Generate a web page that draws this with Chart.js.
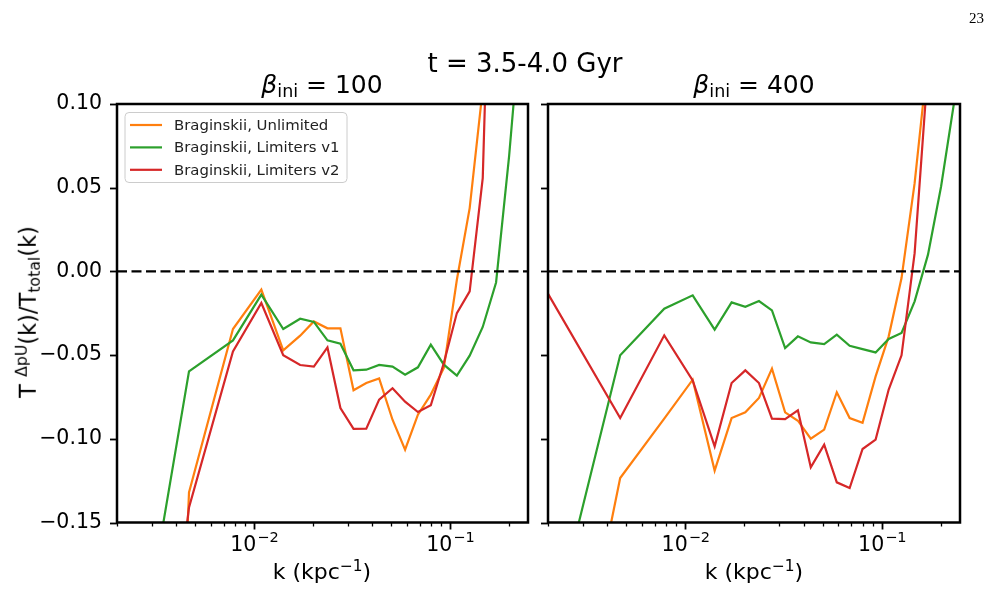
<!DOCTYPE html>
<html>
<head>
<meta charset="utf-8">
<script src="https://cdn.jsdelivr.net/npm/chart.js@4.4.1/dist/chart.umd.min.js"></script>
<style>
  body { margin: 0; background: #fff; }
  #wrap { position: relative; width: 999px; height: 615px; background: #fff; overflow: hidden;
          font-family: "DejaVu Sans", sans-serif; color: #000; }
  canvas { position: absolute; top: 0; }
  .txt { position: absolute; white-space: nowrap; line-height: 1; }
  .ctr { transform: translateX(-50%); }
  sub, sup { font-size: 70%; line-height: 0; }
  sub { vertical-align: -0.25em; }
  sup { vertical-align: 0.55em; }
</style>
</head>
<body>
<div id="wrap">
  <canvas id="c100" width="540" height="615" style="left:0"></canvas>
  <canvas id="c400" width="459" height="615" style="left:540px"></canvas>

  <div class="txt" style="left:969px;top:11px;font-family:'Liberation Serif',serif;font-size:15px">23</div>
  <div class="txt ctr" style="left:525px;top:50px;font-size:26px">t = 3.5-4.0 Gyr</div>
  <div class="txt ctr" style="left:322px;top:72px;font-size:25px"><i>β</i><sub>ini</sub> = 100</div>
  <div class="txt ctr" style="left:754px;top:72px;font-size:25px"><i>β</i><sub>ini</sub> = 400</div>
  <div class="txt ctr" style="left:322px;top:561px;font-size:22px">k (kpc<sup>−1</sup>)</div>
  <div class="txt ctr" style="left:754px;top:561px;font-size:22px">k (kpc<sup>−1</sup>)</div>
  <div class="txt" style="left:28px;top:312px;font-size:22.5px;transform:translate(-50%,-50%) rotate(-90deg)">T <sup>ΔpU</sup>(k)/T<sub>total</sub>(k)</div>
</div>

<script>
// wavenumber bins (kpc^-1), shared by both panels
const kBins = [0.00155, 0.00466, 0.00781, 0.0109, 0.0141, 0.0172, 0.0202, 0.0237,
               0.0276, 0.0322, 0.0374, 0.0435, 0.0509, 0.0590, 0.0686, 0.0798,
               0.0930, 0.1084, 0.1260, 0.1469, 0.1718, 0.2003, 0.2333, 0.2718];

// beta_ini = 100
const unlimited100 = [-1.5, -0.132, -0.0344, -0.0109, -0.0472, -0.0384, -0.0299, -0.0340,
                      -0.0340, -0.0710, -0.0667, -0.0639, -0.0886, -0.1065, -0.0856, -0.0736,
                      -0.0577, -0.0050, 0.0378, 0.109, 0.30];
const limV1_100 = [-0.39, -0.0597, -0.0412, -0.0139, -0.0344, -0.0283, -0.0302, -0.0412,
                   -0.0432, -0.0591, -0.0587, -0.0559, -0.0569, -0.0617, -0.0573, -0.0438,
                   -0.0557, -0.0623, -0.0503, -0.0332, -0.0066, 0.069, 0.16];
const limV2_100 = [-0.6, -0.141, -0.0478, -0.0189, -0.0501, -0.0559, -0.0569, -0.0454,
                   -0.0816, -0.0941, -0.0939, -0.0766, -0.0698, -0.0778, -0.0840, -0.0800,
                   -0.0547, -0.0249, -0.0119, 0.0557, 0.33];

// beta_ini = 400
const unlimited400 = [-0.40, -0.1234, -0.088, -0.0647, -0.1190, -0.0876, -0.0842, -0.0756,
                      -0.0581, -0.0842, -0.0892, -0.0999, -0.0945, -0.0722, -0.0876, -0.0905,
                      -0.0627, -0.0388, -0.0040, 0.0527, 0.128, 0.25];
const limV1_400 = [-0.277, -0.0501, -0.0223, -0.0143, -0.0348, -0.0185, -0.0211, -0.0177,
                   -0.0233, -0.0458, -0.0388, -0.0424, -0.0434, -0.0378, -0.0444, -0.0464,
                   -0.0484, -0.0404, -0.0368, -0.0179, 0.0100, 0.0507, 0.101, 0.2];
const limV2_400 = [0.009, -0.0876, -0.0382, -0.0651, -0.1045, -0.0667, -0.0591, -0.0667,
                   -0.0880, -0.0882, -0.0830, -0.1170, -0.1035, -0.1260, -0.1294, -0.1061,
                   -0.1005, -0.0706, -0.0501, 0.0109, 0.122];

const seriesNames = ['Braginskii, Unlimited', 'Braginskii, Limiters v1', 'Braginskii, Limiters v2'];
const seriesColors = ['#ff7f0e', '#2ca02c', '#d62728'];

const K_MIN = 0.002, K_MAX = 0.25;
const Y_MIN = -0.15, Y_MAX = 0.10, Y_STEP = 0.05;
const xMajor = [0.01, 0.1];
const xMinor = [0.002, 0.003, 0.004, 0.005, 0.006, 0.007, 0.008, 0.009,
                0.02, 0.03, 0.04, 0.05, 0.06, 0.07, 0.08, 0.09, 0.2];
const zeroLine = [0, 0];

Chart.defaults.font.family = 'DejaVu Sans';
Chart.defaults.color = '#000';

const toPoints = (vals) => vals.map((v, i) => ({ x: kBins[i], y: v }));

// frame, ticks, x tick labels (with superscripts) and the in-axes legend
const decorations = {
    id: 'decorations',
    afterDraw(chart, args, opts) {
        const ctx = chart.ctx;
        const area = chart.chartArea;
        const xs = chart.scales.x, ys = chart.scales.y;
        ctx.save();
        ctx.strokeStyle = '#000';

        // y ticks
        ctx.lineWidth = 1.8;
        ys.ticks.forEach(t => {
            const py = Math.round(ys.getPixelForValue(t.value)) + 0.5;
            ctx.beginPath();
            ctx.moveTo(area.left - 7, py);
            ctx.lineTo(area.left, py);
            ctx.stroke();
        });
        // x ticks
        xMajor.forEach(v => {
            const px = Math.round(xs.getPixelForValue(v)) + 0.5;
            ctx.beginPath();
            ctx.moveTo(px, area.bottom);
            ctx.lineTo(px, area.bottom + 7);
            ctx.stroke();
        });
        ctx.lineWidth = 1.3;
        xMinor.forEach(v => {
            const px = Math.round(xs.getPixelForValue(v)) + 0.5;
            ctx.beginPath();
            ctx.moveTo(px, area.bottom);
            ctx.lineTo(px, area.bottom + 4);
            ctx.stroke();
        });

        // frame
        ctx.lineWidth = 2.5;
        ctx.strokeRect(area.left, area.top, area.right - area.left, area.bottom - area.top);

        // x tick labels 10^-2, 10^-1
        ctx.fillStyle = '#000';
        ctx.textBaseline = 'alphabetic';
        xMajor.forEach(v => {
            const px = xs.getPixelForValue(v);
            const exp = '\u2212' + Math.round(-Math.log10(v));
            ctx.font = '20.5px "DejaVu Sans"';
            const wBase = ctx.measureText('10').width;
            ctx.font = '14.5px "DejaVu Sans"';
            const wExp = ctx.measureText(exp).width;
            const x0 = px - (wBase + wExp) / 2;
            ctx.font = '20.5px "DejaVu Sans"';
            ctx.textAlign = 'left';
            ctx.fillText('10', x0, 551);
            ctx.font = '14.5px "DejaVu Sans"';
            ctx.fillText(exp, x0 + wBase + 1, 542);
        });

        // legend
        if (opts.legend) {
            const bx = area.left + 8, by = area.top + 8.5, bw = 222, bh = 70;
            ctx.beginPath();
            ctx.roundRect(bx, by, bw, bh, 4);
            ctx.fillStyle = 'rgba(255,255,255,0.8)';
            ctx.fill();
            ctx.strokeStyle = '#cccccc';
            ctx.lineWidth = 1;
            ctx.stroke();
            ctx.font = '14.9px "DejaVu Sans"';
            ctx.textBaseline = 'middle';
            seriesNames.forEach((name, i) => {
                const ly = by + 12.5 + i * 22.4;
                ctx.strokeStyle = seriesColors[i];
                ctx.lineWidth = 2.2;
                ctx.beginPath();
                ctx.moveTo(bx + 5, ly);
                ctx.lineTo(bx + 37, ly);
                ctx.stroke();
                ctx.fillStyle = '#222';
                ctx.fillText(name, bx + 49, ly + 1);
            });
        }
        ctx.restore();
    }
};

const makePanel = (canvasId, series, yAxisWidth, padRight, showLabels, showLegend) => {
    const datasets = series.map((vals, i) => ({
        label: seriesNames[i],
        data: toPoints(vals),
        borderColor: seriesColors[i],
        borderWidth: 2.2,
        pointRadius: 0,
        tension: 0,
        order: 3 - i
    }));
    datasets.push({
        label: 'zero',
        data: [{ x: K_MIN, y: zeroLine[0] }, { x: K_MAX, y: zeroLine[1] }],
        borderColor: '#000',
        borderWidth: 2.2,
        borderDash: [10, 4.5],
        pointRadius: 0,
        order: 0
    });

    return new Chart(document.getElementById(canvasId), {
        type: 'line',
        data: { datasets },
        options: {
            responsive: false,
            animation: false,
            events: [],
            layout: { padding: { top: 104, right: padRight, left: 0, bottom: 0 } },
            plugins: {
                legend: { display: false },
                tooltip: { enabled: false },
                decorations: { legend: showLegend }
            },
            scales: {
                x: {
                    type: 'logarithmic',
                    min: K_MIN,
                    max: K_MAX,
                    grid: { display: false, drawTicks: false },
                    border: { display: false },
                    ticks: { display: false },
                    afterFit: (scale) => { scale.height = 92.5; }
                },
                y: {
                    type: 'linear',
                    min: Y_MIN,
                    max: Y_MAX,
                    grid: { display: false, drawTicks: false },
                    border: { display: false },
                    ticks: {
                        display: showLabels,
                        stepSize: Y_STEP,
                        padding: 15,
                        font: { size: 20.5 },
                        color: '#000',
                        callback: (v) => {
                            if (Math.abs(v) < 1e-9) return '0.00';
                            return v.toFixed(2).replace('-', '\u2212');
                        }
                    },
                    afterFit: (scale) => { scale.width = yAxisWidth; }
                }
            }
        },
        plugins: [decorations]
    });
};

makePanel('c100', [unlimited100, limV1_100, limV2_100], 117, 12, true, true);
makePanel('c400', [unlimited400, limV1_400, limV2_400], 8, 39, false, false);
</script>
</body>
</html>
